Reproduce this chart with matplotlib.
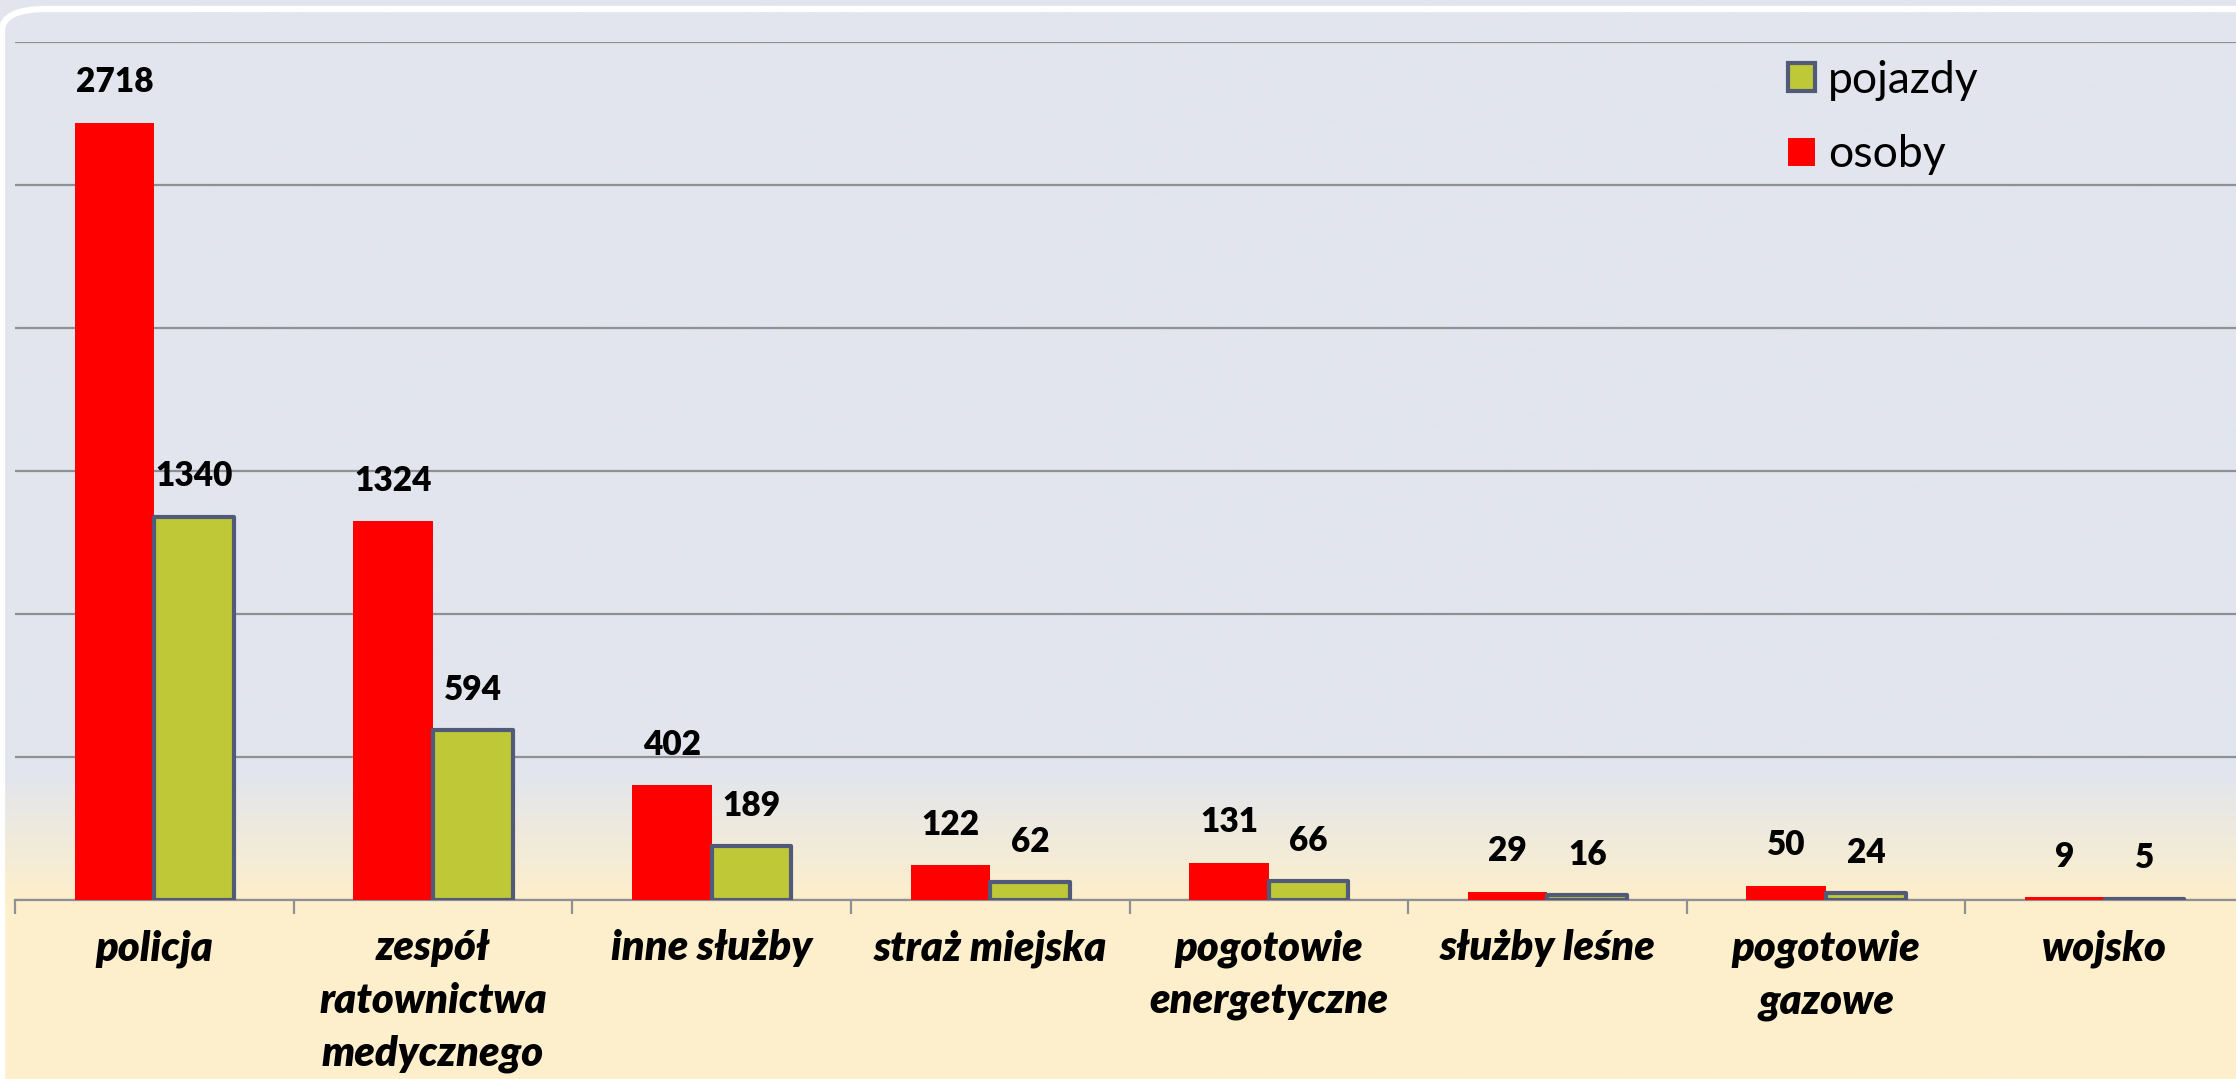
import numpy as np
import matplotlib
matplotlib.use("Agg")
import matplotlib.pyplot as plt
from matplotlib.colors import LinearSegmentedColormap
from matplotlib.patches import Patch, FancyBboxPatch

# dane
kategorie = ['policja', 'zespół\nratownictwa\nmedycznego', 'inne służby', 'straż miejska',
             'pogotowie\nenergetyczne', 'służby leśne', 'pogotowie\ngazowe', 'wojsko']
osoby = [2718, 1324, 402, 122, 131, 29, 50, 9]
pojazdy = [1340, 594, 189, 62, 66, 16, 24, 5]

W, H = 2236, 1079
fig = plt.figure(figsize=(W / 100, H / 100), dpi=100)

# tlo z gradientem (jasnozolty -> szaroniebieski)
bg = fig.add_axes([0, 0, 1, 1], zorder=0)
bg.set_axis_off()
cmap = LinearSegmentedColormap.from_list(
    'tlo', [(0, '#fdf0cd'), (179 / H, '#fdefcb'), (305 / H, '#e2e5ee'), (1, '#e2e5ee')])
grad = np.linspace(0, 1, 512).reshape(-1, 1)
bg.imshow(grad, aspect='auto', cmap=cmap, origin='lower', extent=[0, 1, 0, 1])
bg.set_xlim(0, 1)
bg.set_ylim(0, 1)

# biala ramka u gory
rama = FancyBboxPatch((2 / W, -0.1), 1.2, 1.1 - 9 / H, transform=fig.transFigure,
                      boxstyle='round,pad=0,rounding_size=0.02', fill=False,
                      edgecolor='white', linewidth=4.5, zorder=1)
fig.patches.append(rama)

ax = fig.add_axes([15 / W, 179 / H, (2244 - 15) / W, (1037 - 179) / H], zorder=2)
ax.patch.set_alpha(0)

x = np.arange(len(kategorie))
w = 0.286
b1 = ax.bar(x - w / 2, osoby, w, color='#ff0000', zorder=3)
b2 = ax.bar(x + w / 2, pojazdy, w, color='#bfc837', edgecolor='#525a7a', linewidth=3,
            joinstyle='round', zorder=3)

for rects, vals in [(b1, osoby), (b2, pojazdy)]:
    for r, v in zip(rects, vals):
        ax.annotate(str(v), (r.get_x() + r.get_width() / 2, r.get_height()),
                    xytext=(0, 29), textcoords='offset points', ha='center', va='center',
                    fontsize=24, fontweight='heavy', family='Lato', zorder=4)

ax.set_xlim(-0.5, len(kategorie) - 0.5)
ax.set_ylim(0, 3000)
ax.set_yticks(np.arange(0, 3001, 500))
ax.yaxis.grid(True, color='#8e9096', linewidth=1.6)
ax.set_axisbelow(True)
ax.tick_params(axis='y', left=False, labelleft=False)

ax.set_xticks(x)
ax.set_xticklabels(kategorie, fontsize=30, fontweight='heavy', style='italic', family='Lato',
                   linespacing=1.48)
ax.tick_params(axis='x', which='major', length=0, pad=21)
ax.set_xticks(np.arange(-0.5, len(kategorie)), minor=True)
ax.tick_params(axis='x', which='minor', length=10, width=1.6, color='#8e9096', direction='out')

for s in ['top', 'right', 'left']:
    ax.spines[s].set_visible(False)
ax.spines['bottom'].set_color('#8e9096')
ax.spines['bottom'].set_linewidth(1.6)

uchwyty = [Patch(facecolor='#bfc837', edgecolor='#525a7a', linewidth=3, label='pojazdy'),
           Patch(facecolor='#ff0000', label='osoby')]
ax.legend(handles=uchwyty, loc='upper left', bbox_to_anchor=(1748 / W, 1 - 20 / H),
          bbox_transform=fig.transFigure, frameon=False, prop={'family': 'Lato', 'size': 32},
          handlelength=0.6, handleheight=0.6, handletextpad=0.3, labelspacing=0.75)

fig.savefig('out.png', dpi=100)
